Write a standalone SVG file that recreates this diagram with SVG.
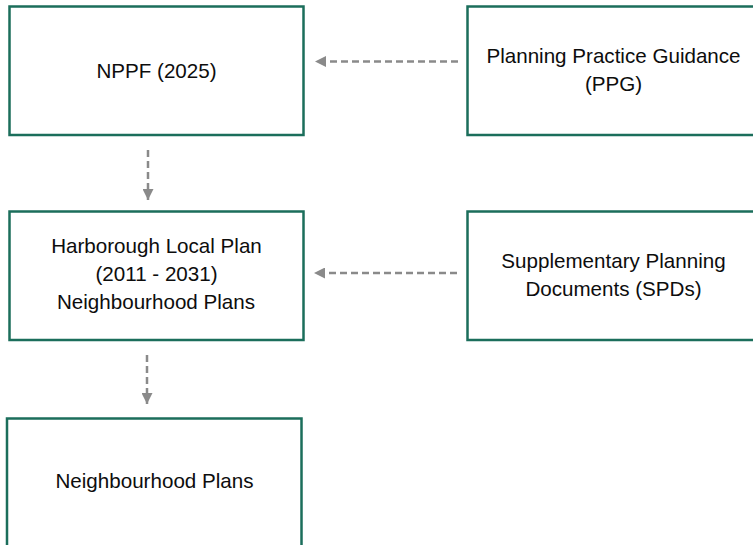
<svg xmlns="http://www.w3.org/2000/svg" width="753" height="545" viewBox="0 0 753 545">
<style>
.box{fill:#ffffff;stroke:#1b6e5b;stroke-width:2.5}
.t{font-family:"Liberation Sans",Arial,sans-serif;font-size:20.6px;fill:#0d0d0d;text-anchor:middle}
.c{stroke:#8a8a8a;stroke-width:2.5;stroke-dasharray:7 4;fill:none}
</style>
<defs>
<marker id="ah" viewBox="0 0 10 10" refX="10" refY="5" markerWidth="11" markerHeight="11" markerUnits="userSpaceOnUse" orient="auto">
<path d="M0,0 L10,5 L0,10 z" fill="#8a8a8a"/>
</marker>
</defs>
<rect width="753" height="545" fill="#ffffff"/>
<g id="connectors">
<line class="c" x1="458" y1="61.5" x2="315" y2="61.5" marker-end="url(#ah)"/>
<line class="c" x1="457" y1="273" x2="314" y2="273" marker-end="url(#ah)"/>
<line class="c" x1="148" y1="150" x2="148" y2="200" marker-end="url(#ah)"/>
<line class="c" x1="147" y1="355" x2="147" y2="404" marker-end="url(#ah)"/>
</g>
<g id="nppf">
<rect class="box" x="9.5" y="6.5" width="294" height="128.5"/>
<text class="t" x="156.5" y="77.5">NPPF (2025)</text>
</g>
<g id="ppg">
<rect class="box" x="467.5" y="6.5" width="292" height="128.5"/>
<text class="t" x="613.5" y="63">Planning Practice Guidance</text>
<text class="t" x="613.5" y="91">(PPG)</text>
</g>
<g id="localplan">
<rect class="box" x="9.5" y="211.5" width="294" height="128.5"/>
<text class="t" x="156.5" y="252.5">Harborough Local Plan</text>
<text class="t" x="156.5" y="280.8">(2011 - 2031)</text>
<text class="t" x="156" y="309">Neighbourhood Plans</text>
</g>
<g id="spds">
<rect class="box" x="467.5" y="211.5" width="292" height="128.5"/>
<text class="t" x="613.5" y="268">Supplementary Planning</text>
<text class="t" x="613.5" y="296">Documents (SPDs)</text>
</g>
<g id="neighbourhood">
<rect class="box" x="7" y="418.5" width="294.5" height="140"/>
<text class="t" x="154.5" y="488">Neighbourhood Plans</text>
</g>
</svg>
